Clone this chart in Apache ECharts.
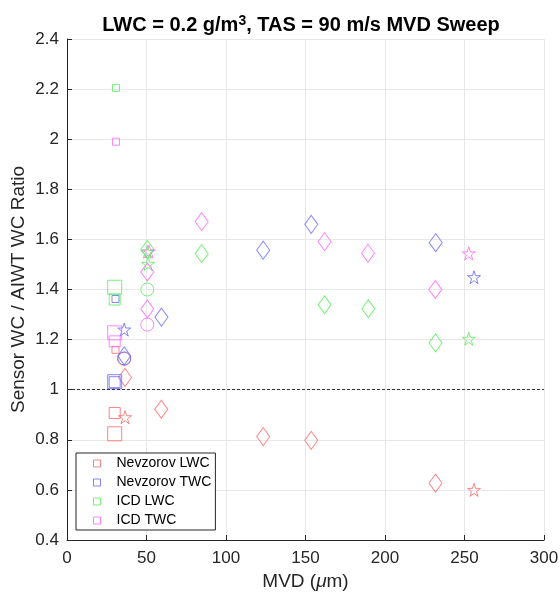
<!DOCTYPE html>
<html><head><meta charset="utf-8">
<script src="https://cdn.jsdelivr.net/npm/echarts@6/dist/echarts.min.js"></script>
<style>html,body{margin:0;padding:0;background:#fff}#c{width:560px;height:592px}</style>
</head><body><div id="c"></div>
<script>
// ---- data ----
const seriesNames = ['Nevzorov LWC', 'Nevzorov TWC', 'ICD LWC', 'ICD TWC'];

const nevLwcMvd   = [30, 30, 30.5, 36.5, 36, 36.5, 59.3, 123.4, 153.6, 231.8, 256];
const nevLwcRatio = [0.824, 0.907, 1.159, 0.890, 1.123, 1.049, 0.922, 0.813, 0.798, 0.627, 0.600];
const nevLwcMark  = ['sqL', 'sqM', 'sqS', 'star', 'circ', 'dia', 'dia', 'dia', 'dia', 'dia', 'star'];

const nevTwcMvd   = [30, 30, 30.5, 36, 36, 36, 59.4, 123.4, 153.6, 231.9, 256];
const nevTwcRatio = [1.032, 1.030, 1.362, 1.240, 1.125, 1.135, 1.290, 1.557, 1.660, 1.587, 1.449];
const nevTwcMark  = ['sqL', 'sqM', 'sqS', 'star', 'circ', 'dia', 'dia', 'dia', 'dia', 'dia', 'star'];

const icdLwcMvd   = [30.8, 30, 30, 50.5, 50.5, 51, 50.5, 84.7, 162, 189.5, 231.8, 252.7];
const icdLwcRatio = [2.205, 1.409, 1.360, 1.560, 1.550, 1.502, 1.400, 1.543, 1.339, 1.323, 1.187, 1.203];
const icdLwcMark  = ['sqS', 'sqL', 'sqM', 'dia', 'star', 'star', 'circ', 'dia', 'dia', 'dia', 'dia', 'star'];

const icdTwcMvd   = [30.8, 30, 30, 51.5, 50.5, 50.5, 50.5, 84.7, 162, 189.3, 231.6, 252.7];
const icdTwcRatio = [1.990, 1.227, 1.193, 1.552, 1.470, 1.322, 1.260, 1.671, 1.591, 1.545, 1.400, 1.544];
const icdTwcMark  = ['sqS', 'sqL', 'sqM', 'star', 'dia', 'dia', 'circ', 'dia', 'dia', 'dia', 'dia', 'star'];

const referenceRatio = 1;
const xTicks = [0, 50, 100, 150, 200, 250, 300];
const yTicks = [0.4, 0.6, 0.8, 1, 1.2, 1.4, 1.6, 1.8, 2, 2.2, 2.4];

// ---- styles ----
const colors = ['#ff6666', '#6666ff', '#55ee55', '#ff66ff'];
const FONT = '"Liberation Sans", Arial, Helvetica, sans-serif';
const STAR = 'path://M50 0L61.23 34.55L97.55 34.55L68.16 55.9L79.39 90.45L50 69.1L20.61 90.45L31.84 55.9L2.45 34.55L38.77 34.55Z';
const markerStyle = {
  sqL:  { symbol: 'rect', symbolSize: 14 },
  sqM:  { symbol: 'rect', symbolSize: 11 },
  sqS:  { symbol: 'rect', symbolSize: 7 },
  dia:  { symbol: 'diamond', symbolSize: [13, 18] },
  circ: { symbol: 'circle', symbolSize: 13 },
  star: { symbol: STAR, symbolSize: 13 }
};

const groups = [
  [nevLwcMvd, nevLwcRatio, nevLwcMark],
  [nevTwcMvd, nevTwcRatio, nevTwcMark],
  [icdLwcMvd, icdLwcRatio, icdLwcMark],
  [icdTwcMvd, icdTwcRatio, icdTwcMark]
];

const series = groups.map(([xs, ys, ms], i) => ({
  name: seriesNames[i],
  type: 'scatter',
  data: xs.map((x, k) => Object.assign({ value: [x, ys[k]] }, markerStyle[ms[k]])),
  itemStyle: { color: 'rgba(0,0,0,0)', borderColor: colors[i], borderWidth: 1 },
  emphasis: { disabled: true },
  z: 3
}));

series.push({
  type: 'line', data: [], silent: true,
  markLine: {
    silent: true, symbol: 'none', animation: false,
    label: { show: false },
    lineStyle: { color: '#333', type: [3, 2], width: 1 },
    data: [{ yAxis: referenceRatio }]
  }
});

const chart = echarts.init(document.getElementById('c'), null, { renderer: 'canvas' });
chart.setOption({
  animation: false,
  backgroundColor: '#fff',
  title: {
    text: 'LWC = 0.2 g/m{sup|3}, TAS = 90 m/s MVD Sweep',
    left: 296, top: 9, textAlign: 'center',
    textStyle: { fontFamily: FONT, fontSize: 20, fontWeight: 'bold', color: '#000',
      rich: { sup: { fontFamily: FONT, fontSize: 14, fontWeight: 'bold', color: '#000', verticalAlign: 'top', padding: [0, 0, 8, 0] } } }
  },
  grid: { left: 67, right: 16, top: 39, bottom: 52, outerBoundsMode: 'none', containLabel: false },
  legend: {
    orient: 'vertical', left: 76, top: 453,
    padding: [3, 4, 2, 17],
    backgroundColor: '#fff', borderColor: '#262626', borderWidth: 1,
    itemWidth: 7, itemHeight: 7, itemGap: 4,
    textStyle: { fontFamily: FONT, fontSize: 14, lineHeight: 15, color: '#000', padding: [0, 0, 0, 11] },
    data: seriesNames.map((n, i) => ({
      name: n, icon: 'rect',
      itemStyle: { color: 'rgba(0,0,0,0)', borderColor: colors[i], borderWidth: 1 }
    }))
  },
  xAxis: {
    type: 'value', min: xTicks[0], max: xTicks[xTicks.length - 1], interval: 50,
    name: 'MVD ({i|μ}m)', nameLocation: 'middle', nameGap: 32, nameMoveOverlap: false,
    nameTextStyle: { fontFamily: FONT, fontSize: 19, color: '#262626',
      rich: { i: { fontFamily: FONT, fontSize: 19, fontStyle: 'italic', color: '#262626' } } },
    axisLine: { show: true, lineStyle: { color: '#262626', width: 1 } },
    axisTick: { show: true, inside: true, length: 5, lineStyle: { color: '#262626' } },
    axisLabel: { fontFamily: FONT, fontSize: 17, color: '#262626', margin: 10 },
    splitLine: { show: true, lineStyle: { color: '#e8e8e8', width: 1 } }
  },
  yAxis: {
    type: 'value', min: yTicks[0], max: yTicks[yTicks.length - 1], interval: 0.2,
    name: 'Sensor WC / AIWT WC Ratio', nameLocation: 'middle', nameGap: 39, nameMoveOverlap: false,
    nameTextStyle: { fontFamily: FONT, fontSize: 19, color: '#262626' },
    axisLine: { show: true, lineStyle: { color: '#262626', width: 1 } },
    axisTick: { show: true, inside: true, length: 5, lineStyle: { color: '#262626' } },
    axisLabel: { fontFamily: FONT, fontSize: 17, color: '#262626', margin: 8,
      formatter: v => String(Math.round(v * 10) / 10) },
    splitLine: { show: true, lineStyle: { color: '#e8e8e8', width: 1 } }
  },
  series
});
</script>
</body></html>
